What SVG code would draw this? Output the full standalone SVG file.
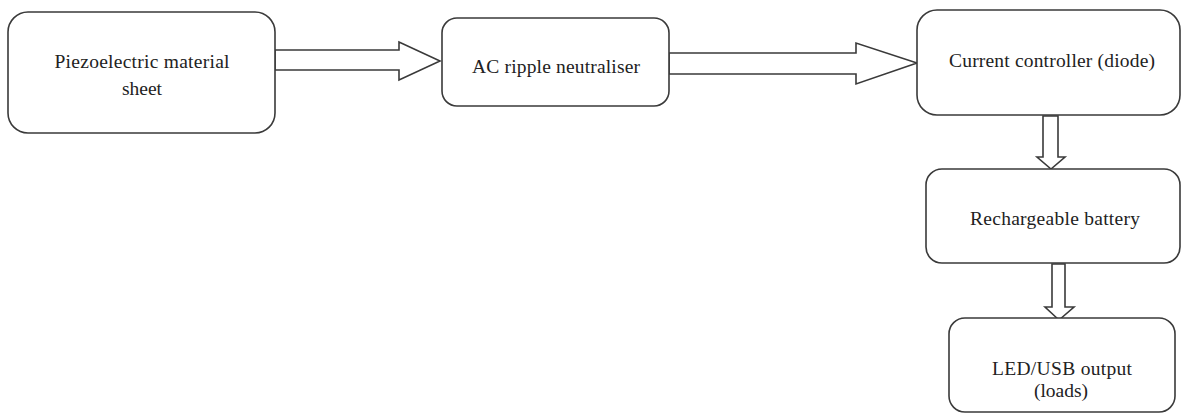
<svg xmlns="http://www.w3.org/2000/svg" width="1182" height="413" viewBox="0 0 1182 413">
<style>
.box{fill:#fff;stroke:#3a3a3a;stroke-width:1.6}
.arr{fill:#fff;stroke:#3a3a3a;stroke-width:1.6;stroke-linejoin:miter}
.t{font-family:'Liberation Serif','Times New Roman',serif;font-size:19.5px;fill:#222;text-anchor:middle}
</style>
<rect width="1182" height="413" fill="#fff"/>
<g id="connectors">
<path class="arr" d="M275,50 H399 V42 L440,61 L399,80 V70 H275 Z"/>
<path class="arr" d="M669,53 H856 V43 L917,63 L856,84 V74 H669 Z"/>
<path class="arr" d="M1043,116 V157 H1037 L1051,169 L1065,157 H1058 V116 Z"/>
<path class="arr" d="M1052,264 V307 H1045 L1059,320 L1074,307 H1065 V264 Z"/>
</g>
<g id="node-piezo">
<rect class="box" x="8" y="12" width="267" height="121" rx="20"/>
<text class="t" x="142" y="68" textLength="175">Piezoelectric material</text>
<text class="t" x="142" y="95">sheet</text>
</g>
<g id="node-ac">
<rect class="box" x="442" y="18" width="227" height="88" rx="15"/>
<text class="t" x="556" y="73" textLength="168">AC ripple neutraliser</text>
</g>
<g id="node-current">
<rect class="box" x="917" y="10" width="263" height="105" rx="20"/>
<text class="t" x="1052" y="67" textLength="206">Current controller (diode)</text>
</g>
<g id="node-battery">
<rect class="box" x="926" y="169" width="254" height="94" rx="16"/>
<text class="t" x="1055" y="225" textLength="170">Rechargeable battery</text>
</g>
<g id="node-led">
<rect class="box" x="949" y="318" width="226" height="94" rx="16"/>
<text class="t" x="1062" y="375" textLength="140">LED/USB output</text>
<text class="t" x="1061" y="397">(loads)</text>
</g>
</svg>
